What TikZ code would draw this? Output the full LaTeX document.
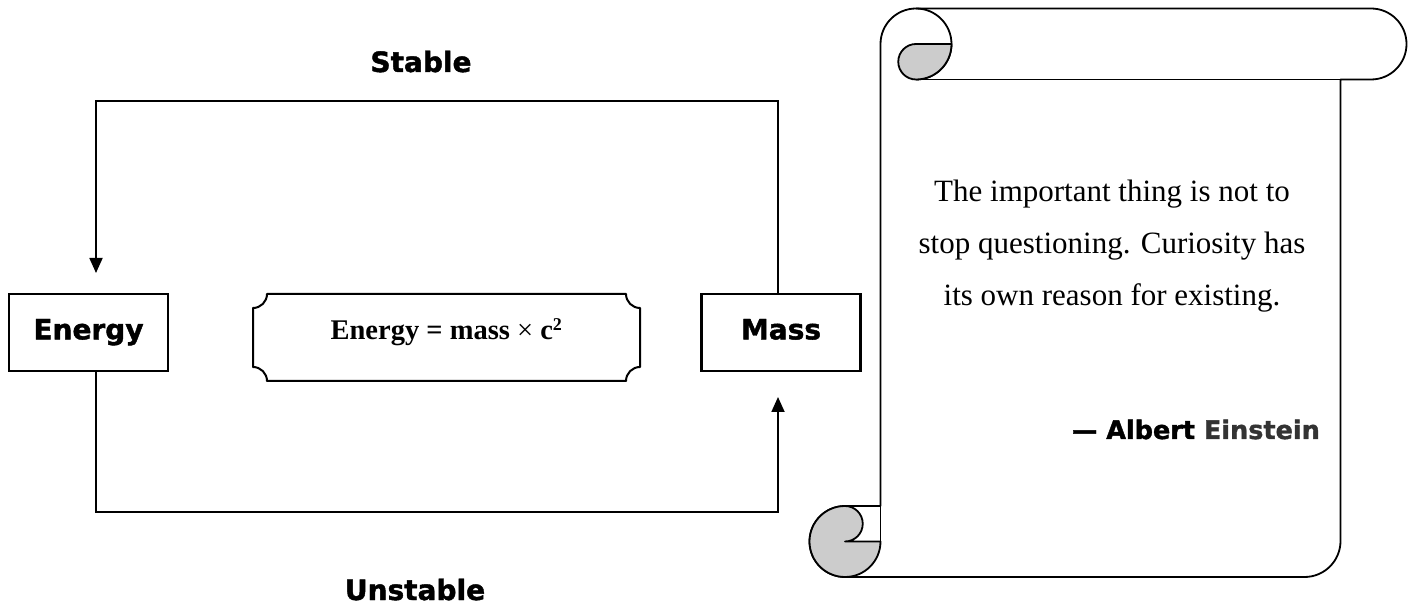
\documentclass[tikz,border=0pt]{standalone}
\usepackage{fontspec}
\setmainfont{Liberation Serif}
\newfontfamily\labfont{DejaVu Sans Bold}[FakeBold=1.5]
\usetikzlibrary{arrows.meta}
\definecolor{curlgray}{HTML}{CCCCCC}
\definecolor{einst}{HTML}{333333}
\begin{document}
\begin{tikzpicture}[x=1pt,y=1pt,
  boxnode/.style={draw,line width=2.2pt,minimum width=159pt,minimum height=77pt,inner sep=0pt,
    font=\labfont\fontsize{28}{30}\selectfont,text height=20.4pt,text depth=6.6pt},
  labnode/.style={font=\labfont\fontsize{28}{30}\selectfont,inner sep=0pt},
  quotenode/.style={font=\fontsize{31}{36}\selectfont,inner sep=0pt},
  conn/.style={line width=1.8pt},
  tip/.style={-{Triangle[length=15pt,width=13pt]}},
  scrollline/.style={line width=1.8pt,line join=round}]
\useasboundingbox (0,0) rectangle (1408,608);

% boxes
\node[boxnode] (energy) at (88.5,275.5) {Energy};
\node[boxnode] (mass) at (781,275.5) {Mass};

% equation
\draw[line width=2pt,line join=round] (267,314) -- (626,314)
  arc[start angle=180,end angle=270,radius=14] -- (640,241)
  arc[start angle=90,end angle=180,radius=14] -- (267,227)
  arc[start angle=0,end angle=90,radius=14] -- (253,300)
  arc[start angle=270,end angle=360,radius=14] -- cycle;
\node[font=\bfseries\fontsize{28.5}{30}\selectfont,inner sep=0pt,anchor=base] (eq) at (446.5,268) {Energy = mass {\mdseries×} c\textsuperscript{\fontsize{18}{18}\selectfont 2}};

% connectors
\coordinate (etip) at (96,335);
\coordinate (mtip) at (778,211);
\draw[conn,tip] (mtip |- mass.north) -- ++(0,192) -| (etip);
\draw[conn,tip] (etip |- energy.south) -- ++(0,-140) -| (mtip);

\node[labnode,anchor=base] (stable) at (421,536) {Stable};
\node[labnode,anchor=base] (unstable) at (415,8) {Unstable};

% scroll
\filldraw[scrollline,fill=white] (880.5,564) arc[start angle=180,end angle=90,radius=35.5]
  -- (1371,599.5) arc[start angle=90,end angle=-90,radius=35.5]
  -- (1340.5,528.5) -- (1340.5,67) arc[start angle=0,end angle=-90,radius=36]
  -- (845,31) arc[start angle=270,end angle=90,radius=35.5]
  -- (880.5,102) -- cycle;
\draw[scrollline] (880.5,66.5) -- (880.5,102);
\draw[scrollline] (916,528.5) -- (1371,528.5);
\draw[scrollline] (916,599.5) arc[start angle=90,end angle=-90,radius=35.5];
\filldraw[scrollline,fill=curlgray] (916,564) -- (951.5,564)
  arc[start angle=0,end angle=-90,radius=35.5]
  arc[start angle=270,end angle=90,radius=17.75] -- cycle;
\filldraw[scrollline,fill=curlgray] (845,102) arc[start angle=90,end angle=360,radius=35.5]
  -- (845,66.5) arc[start angle=-90,end angle=90,radius=17.75] -- cycle;

% quote
\node[quotenode,anchor=base] (q1) at (1112,406) {The important thing is not to};
\node[quotenode,anchor=base] (q2) at (1112,354.3) {stop questioning. Curiosity has};
\node[quotenode,anchor=base] (q3) at (1112,302.6) {its own reason for existing.};
\node[labnode,font=\labfont\fontsize{25.5}{28}\selectfont,anchor=base east] (author) at (1320,169) {— Albert \textcolor{einst}{Einstein}};
\end{tikzpicture}
\end{document}
